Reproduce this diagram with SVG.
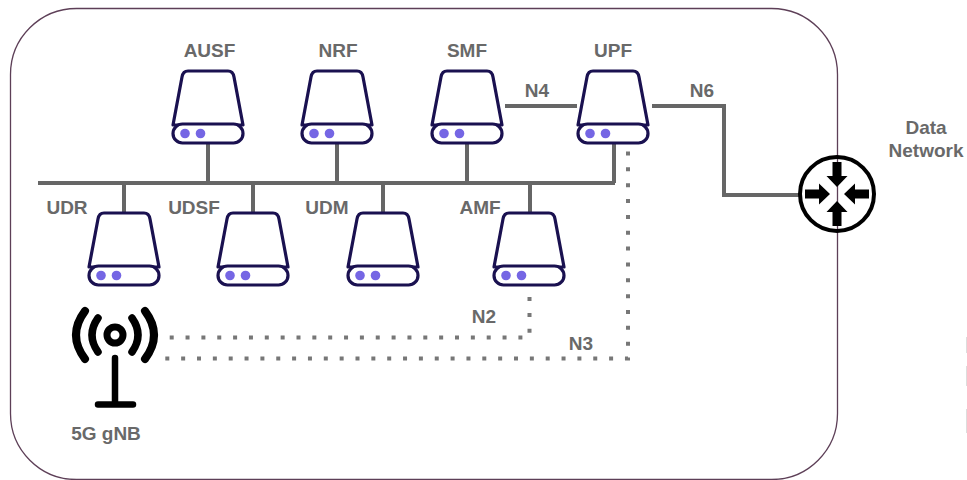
<svg xmlns="http://www.w3.org/2000/svg" width="967" height="480" viewBox="0 0 967 480">
<style>
text{font-family:"Liberation Sans",Arial,sans-serif;font-weight:700;font-size:19px;fill:#696969;text-anchor:middle}
.wire{fill:none;stroke:#666;stroke-width:4}
.dot{fill:none;stroke:#777;stroke-width:4;stroke-dasharray:4 11.85}
.srv{fill:#fff;stroke:#1a1150;stroke-width:3.200;stroke-linejoin:round}
.led{fill:#7566e4}
.blk{fill:none;stroke:#000;stroke-linecap:round}
</style>
<defs>
<g id="server">
<path class="srv" d="M-20 0H20Q25 0 26 6L35 54H-35L-26 6Q-25 0 -20 0Z"/>
<rect class="srv" x="-35" y="53" width="70" height="19" rx="9.500"/>
<circle class="led" cx="-23" cy="62.500" r="4.800"/>
<circle class="led" cx="-7.500" cy="62.500" r="4.800"/>
</g>
<path id="arrow" fill="#000" d="M-25 -4.500H-11V-10.500L0 0L-11 10.500V4.500H-25Z"/>
</defs>
<rect width="967" height="480" fill="#fff"/>
<rect id="boundary" x="10.500" y="8.500" width="827" height="471" rx="66" ry="66" fill="none" stroke="#5d3f57" stroke-width="1.300"/>
<g id="connectors">
<path class="wire" d="M38 183H615M208 143V183M337 143V183M467 143V183M614 143V183M124 183V212M253 183V212M383 183V212M530 183V212"/>
<path class="wire" d="M505 106H577"/>
<path class="wire" d="M652 106H724V195H800"/>
<path class="dot" d="M169.700 337.500H529.500V296"/>
<path class="dot" d="M165.300 358.500H628V146"/>
</g>
<g id="AUSF"><use href="#server" x="208" y="71"/><text x="209.500" y="57">AUSF</text></g>
<g id="NRF"><use href="#server" x="337" y="71"/><text x="338" y="57">NRF</text></g>
<g id="SMF"><use href="#server" x="467" y="71"/><text x="467" y="57">SMF</text></g>
<g id="UPF"><use href="#server" x="613" y="71"/><text x="613" y="57">UPF</text></g>
<g id="UDR"><use href="#server" x="124" y="213"/><text x="67" y="214">UDR</text></g>
<g id="UDSF"><use href="#server" x="253" y="213"/><text x="194" y="214">UDSF</text></g>
<g id="UDM"><use href="#server" x="383" y="213"/><text x="327" y="214">UDM</text></g>
<g id="AMF"><use href="#server" x="529" y="213"/><text x="480" y="214">AMF</text></g>
<g id="gNB">
<circle cx="115" cy="335" r="8" fill="none" stroke="#000" stroke-width="7"/>
<path class="blk" stroke-width="7.500" d="M98 318Q86 335 98 352M132 318Q144 335 132 352"/>
<path class="blk" stroke-width="8" d="M85 311Q67 335 85 359M145 311Q163 335 145 359"/>
<path class="blk" stroke-width="6.500" d="M115 358V404M98 404.500H133"/>
<text x="106" y="440">5G gNB</text>
</g>
<g id="DataNetwork">
<circle cx="837" cy="194" r="37" fill="none" stroke="#000" stroke-width="4"/>
<use href="#arrow" transform="translate(830 194)"/>
<use href="#arrow" transform="translate(844 194) rotate(180)"/>
<use href="#arrow" transform="translate(837 187) rotate(90)"/>
<use href="#arrow" transform="translate(837 201) rotate(-90)"/>
<text x="926" y="134">Data</text>
<text x="926" y="157">Network</text>
</g>
<g id="labels">
<text x="537" y="97">N4</text>
<text x="702" y="97">N6</text>
<text x="484" y="323">N2</text>
<text x="581" y="350">N3</text>
</g>
<g id="edge" fill="#ddd"><rect x="966" y="337" width="1" height="16"/><rect x="966" y="366" width="1" height="20"/><rect x="966" y="409" width="1" height="24"/></g>
</svg>
